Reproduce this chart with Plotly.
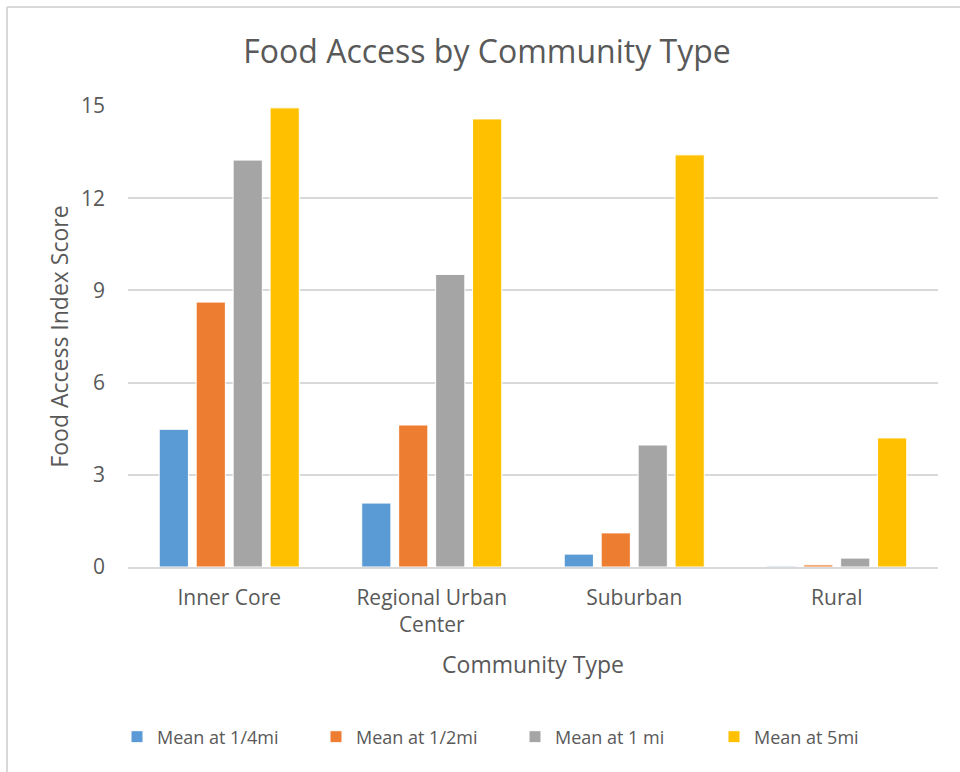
import plotly.graph_objects as go

# Community types and mean food access index scores by distance band
categories = ["Inner Core", "Regional Urban<br>Center", "Suburban", "Rural"]
series_names = ["Mean at 1/4mi", "Mean at 1/2mi", "Mean at 1 mi", "Mean at 5mi"]
mean_quarter_mi = [4.48, 2.08, 0.42, 0.03]
mean_half_mi = [8.62, 4.62, 1.11, 0.07]
mean_one_mi = [13.24, 9.52, 3.97, 0.29]
mean_five_mi = [14.94, 14.58, 13.41, 4.20]
y_ticks = [0, 3, 6, 9, 12, 15]

colors = ["#5B9BD5", "#ED7D31", "#A5A5A5", "#FFC000"]
values = [mean_quarter_mi, mean_half_mi, mean_one_mi, mean_five_mi]

W, H = 960, 772
L, R, T, B = 128, 22, 106, 205
PW, PH = W - L - R, H - T - B

FONT = "Open Sans"
TEXT = "#595959"
GRID = "#D9D9D9"

fig = go.Figure()
for name, vals, col in zip(series_names, values, colors):
    fig.add_trace(go.Bar(
        x=categories, y=vals, name=name,
        marker=dict(color=col, line=dict(color="white", width=1)),
    ))

def px_x(p):
    return (p - L) / PW

def px_y(p):
    return (H - B - p) / PH

# chart border (top and left edges)
fig.add_shape(type="line", xref="paper", yref="paper",
              x0=px_x(7), x1=px_x(965), y0=px_y(7), y1=px_y(7),
              line=dict(color=GRID, width=2))
fig.add_shape(type="line", xref="paper", yref="paper",
              x0=px_x(7), x1=px_x(7), y0=px_y(7), y1=px_y(780),
              line=dict(color=GRID, width=2))

fig.update_layout(
    width=W, height=H,
    margin=dict(l=L, r=R, t=T, b=B),
    paper_bgcolor="white", plot_bgcolor="white",
    font=dict(family=FONT, color=TEXT),
    barmode="group", bargap=0.27, bargroupgap=0.21,
    title=dict(text="Food Access by Community Type", x=487 / W, xref="container",
               xanchor="center", y=1 - 52 / H, yref="container", yanchor="middle",
               font=dict(size=32, color=TEXT, family=FONT)),
    xaxis=dict(
        showgrid=False, showline=True, linecolor=GRID, linewidth=1.5,
        ticks="", tickfont=dict(size=21, color=TEXT), ticklabelstandoff=11,
        title=dict(text="Community Type", font=dict(size=23, color=TEXT), standoff=20),
    ),
    yaxis=dict(
        range=[0, 15], tickvals=y_ticks, showgrid=True, gridcolor=GRID, gridwidth=1.5,
        zeroline=False, ticks="", tickfont=dict(size=21, color=TEXT), ticklabelstandoff=22,
        title=dict(text="Food Access Index Score", font=dict(size=23, color=TEXT), standoff=5),
    ),
    legend=dict(
        orientation="h", xref="container", yref="container",
        x=117 / W, xanchor="left", y=1 - 737 / H, yanchor="middle",
        font=dict(size=18, color=TEXT), entrywidth=154, entrywidthmode="pixels",
        itemwidth=30, traceorder="normal",
    ),
)

fig.write_html("out.html")
